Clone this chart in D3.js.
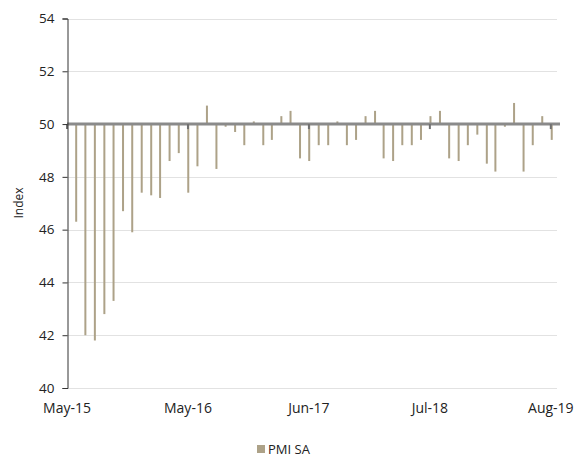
<!DOCTYPE html>
<html>
<head>
<meta charset="utf-8">
<script src="https://cdn.jsdelivr.net/npm/d3@7/dist/d3.min.js"></script>
<style>
  html, body { margin: 0; padding: 0; background: #fff; }
  svg { display: block; font-family: "Open Sans", "Noto Sans", sans-serif; }
</style>
</head>
<body>
<svg id="chart" width="586" height="457"></svg>
<script>
// Monthly PMI (seasonally adjusted), May 2015 – Aug 2019, month-end observations
const seriesName = "PMI SA";
const pmiValues = [
  46.3, 42.0, 41.8, 42.8, 43.3, 46.7, 45.9, 47.4, 47.3, 47.2, 48.6, 48.9,
  47.4, 48.4, 50.7, 48.3, 49.9, 49.7, 49.2, 50.1, 49.2, 49.4, 50.3, 50.5,
  48.7, 48.6, 49.2, 49.2, 50.1, 49.2, 49.4, 50.3, 50.5, 48.7, 48.6, 49.2,
  49.2, 49.4, 50.3, 50.5, 48.7, 48.6, 49.2, 49.6, 48.5, 48.2, 49.9, 50.8,
  48.2, 49.2, 50.3, 49.4
];
// Month-end dates for each observation
const months = d3.timeMonth.range(new Date(2015, 4, 1), new Date(2019, 8, 1))
  .map(d => d3.timeDay.offset(d3.timeMonth.offset(d, 1), -1));

// Date axis: major ticks and their labels
const tickDates = ["2015-05-01", "2016-05-30", "2017-06-29", "2018-07-29", "2019-08-28"];
const tickLabels = ["May-15", "May-16", "Jun-17", "Jul-18", "Aug-19"];
const yTicks = [40, 42, 44, 46, 48, 50, 52, 54];
const baseline = 50;

const parse = d3.timeParse("%Y-%m-%d");
const svg = d3.select("#chart");

const x = d3.scaleTime()
  .domain([new Date(2015, 4, 1), new Date(2019, 8, 27)])
  .range([67, 560]);
const y = d3.scaleLinear().domain([40, 54]).range([388, 18.5]);

const barColor = "#ada288";

// horizontal gridlines
svg.append("g")
  .selectAll("line")
  .data(yTicks)
  .join("line")
  .attr("x1", 67).attr("x2", 557)
  .attr("y1", d => Math.round(y(d)) + 0.5)
  .attr("y2", d => Math.round(y(d)) + 0.5)
  .attr("stroke", "#e2e2e2")
  .attr("stroke-width", 1);

// bars hanging from / rising above the 50 line
svg.append("g")
  .selectAll("rect")
  .data(pmiValues)
  .join("rect")
  .attr("x", (d, i) => x(months[i]) - 1)
  .attr("width", 2)
  .attr("y", d => y(Math.max(d, baseline)))
  .attr("height", d => Math.abs(y(d) - y(baseline)))
  .attr("fill", barColor);

// category axis drawn at 50
svg.append("line")
  .attr("x1", 67).attr("x2", 560)
  .attr("y1", y(baseline)).attr("y2", y(baseline))
  .attr("stroke", "#8a8a8a")
  .attr("stroke-width", 3);

svg.append("g")
  .selectAll("line")
  .data(tickDates)
  .join("line")
  .attr("x1", d => x(parse(d))).attr("x2", d => x(parse(d)))
  .attr("y1", y(baseline)).attr("y2", y(baseline) + 5)
  .attr("stroke", "#707070")
  .attr("stroke-width", 2);

// date labels along the bottom
svg.append("g")
  .selectAll("text")
  .data(tickDates)
  .join("text")
  .attr("x", d => x(parse(d)))
  .attr("y", 413)
  .attr("text-anchor", "middle")
  .attr("font-size", 14)
  .attr("fill", "#222")
  .text((d, i) => tickLabels[i]);

// value axis
const yAxis = d3.axisLeft(y).tickValues(yTicks).tickSize(5).tickPadding(8)
  .tickFormat(d3.format("d"));
const ya = svg.append("g").attr("transform", "translate(67.5,0)").call(yAxis);
ya.select(".domain").attr("stroke", "#333");
ya.selectAll(".tick line").attr("stroke", "#333");
ya.selectAll(".tick text")
  .attr("font-size", 13.5)
  .attr("fill", "#222")
  .style("font-family", "'Open Sans', 'Noto Sans', sans-serif");

// axis title
svg.append("text")
  .attr("transform", "translate(23,203) rotate(-90)")
  .attr("text-anchor", "middle")
  .attr("font-size", 12)
  .attr("fill", "#222")
  .text("Index");

// legend
const legend = svg.append("g").attr("transform", "translate(257,445)");
legend.append("rect").attr("width", 8).attr("height", 8).attr("fill", barColor);
legend.append("text")
  .attr("x", 11).attr("y", 9)
  .attr("font-size", 13)
  .attr("fill", "#222")
  .text(seriesName);
</script>
</body>
</html>
